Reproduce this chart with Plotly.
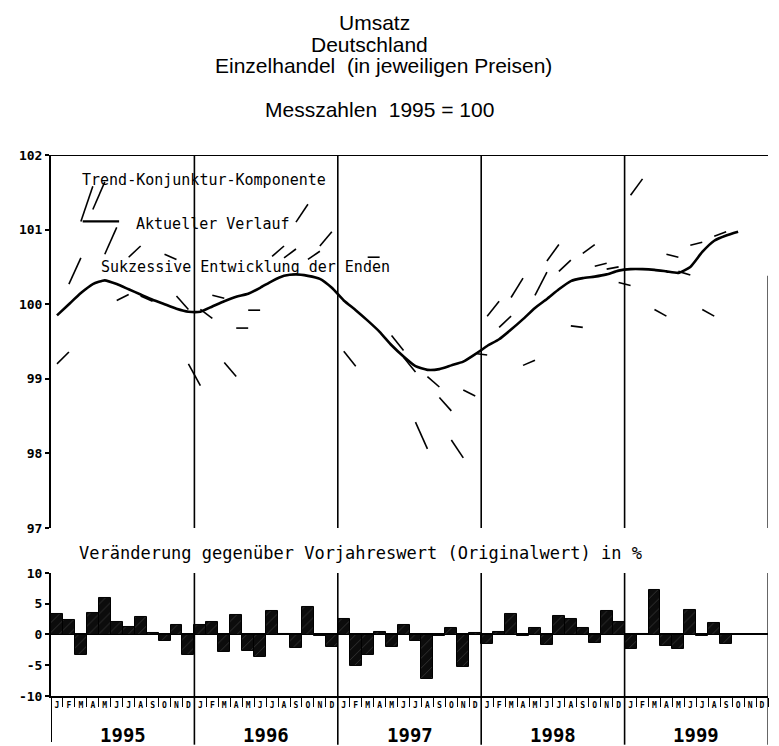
import plotly.graph_objects as go

# ---------------- data ----------------
years = ["1995", "1996", "1997", "1998", "1999"]
month_letters = ["J", "F", "M", "A", "M", "J", "J", "A", "S", "O", "N", "D"]
y_ticks_top = [97, 98, 99, 100, 101, 102]
y_ticks_bottom = [10, 5, 0, -5, -10]
y_ticklabels_bottom = ["10", "5", "0", "-5", "-10"]

# Trend-Konjunktur-Komponente, aktueller Verlauf (Jan 1995 .. Oct 1999)
trend = [99.85, 100.00, 100.15, 100.27, 100.32, 100.27, 100.20, 100.13, 100.06, 100.00, 99.94, 99.90,
         99.90, 99.97, 100.04, 100.10, 100.14, 100.22, 100.31, 100.38, 100.40, 100.38, 100.34, 100.22,
         100.05, 99.92, 99.78, 99.63, 99.45, 99.30, 99.17, 99.12, 99.13, 99.18, 99.23, 99.33,
         99.44, 99.53, 99.66, 99.80, 99.95, 100.07, 100.20, 100.31, 100.35, 100.37, 100.40, 100.45,
         100.47, 100.47, 100.46, 100.44, 100.42, 100.50, 100.70, 100.85, 100.92, 100.97]

# Sukzessive Entwicklung der Enden: month index where the segment starts, value at start, value one month later
dash_month = [0, 1, 2, 3, 4, 5, 6, 7, 9, 10, 11,
              12, 13, 14, 15, 16, 18, 19, 20, 21, 22,
              24, 26, 28, 29, 30, 31, 32, 33, 34, 35,
              36, 37, 38, 39, 40, 41, 42, 43, 44, 45, 46, 47,
              48, 50, 51, 52, 53, 54, 55]
dash_from = [99.20, 100.27, 101.11, 101.27, 100.67, 100.05, 100.63, 100.11, 100.67, 100.11, 99.20,
             99.93, 100.12, 99.22, 99.68, 99.92, 100.64, 100.62, 101.10, 100.60, 100.78,
             99.37, 100.63, 99.58, 99.29, 98.42, 99.03, 98.75, 98.18, 98.85, 99.34,
             99.84, 99.69, 100.09, 99.18, 100.12, 100.58, 100.44, 99.71, 100.68, 100.51, 100.47, 100.29,
             101.46, 99.93, 100.67, 100.44, 100.79, 99.93, 100.91]
dash_to = [99.36, 100.62, 101.58, 101.64, 101.03, 100.13, 100.78, 100.04, 100.60, 99.93, 98.91,
           99.81, 100.08, 99.03, 99.68, 99.92, 100.78, 100.74, 101.34, 100.71, 100.97,
           99.17, 100.63, 99.38, 99.09, 98.06, 98.89, 98.57, 97.94, 98.77, 99.32,
           100.04, 99.84, 100.35, 99.25, 100.43, 100.80, 100.59, 99.69, 100.80, 100.55, 100.50, 100.25,
           101.68, 99.84, 100.63, 100.39, 100.83, 99.84, 100.97]

# Veränderung gegenüber Vorjahreswert (Originalwert) in %
change_1995 = [3.4, 2.4, -3.3, 3.5, 5.9, 2.1, 1.3, 2.8, 0.2, -1.0, 1.5, -3.3]
change_1996 = [1.6, 2.1, -2.8, 3.2, -2.7, -3.7, 3.8, 0.1, -2.2, 4.5, -0.2, -2.1]
change_1997 = [2.6, -5.1, -3.3, 0.4, -2.1, 1.5, -1.0, -7.2, -0.2, 1.1, -5.2, 0.3]
change_1998 = [-1.6, 0.4, 3.3, -0.3, 1.1, -1.7, 3.0, 2.6, 1.0, -1.4, 3.9, 2.0]
change_1999 = [-2.3, 0.1, 7.2, -1.8, -2.3, 4.0, -0.2, 1.8, -1.5, None, None, None]

# ---------------- build ----------------
changes = change_1995 + change_1996 + change_1997 + change_1998 + change_1999
n_months = 12 * len(years)
months = list(range(n_months))

dx, dy = [], []
for m, a, b in zip(dash_month, dash_from, dash_to):
    dx += [m, m + 1, None]
    dy += [a, b, None]

MONO = "DejaVu Sans Mono"
SANS = "Liberation Sans"

fig = go.Figure()
fig.add_trace(go.Scatter(x=dx, y=dy, mode="lines", line=dict(color="black", width=1.6),
                         xaxis="x", yaxis="y", showlegend=False, hoverinfo="skip"))
fig.add_trace(go.Scatter(x=months[:len(trend)], y=trend, mode="lines",
                         line=dict(color="black", width=2.6, shape="spline", smoothing=0.5),
                         xaxis="x", yaxis="y", showlegend=False))
fig.add_trace(go.Bar(x=months, y=changes, width=1.0, xaxis="x2", yaxis="y2", showlegend=False,
                     marker=dict(color="#0c0c0c", line=dict(color="black", width=1),
                                 pattern=dict(shape="/", fgcolor="#8a8a8a", bgcolor="#0c0c0c",
                                              size=7, solidity=0.08))))

xr = [-0.5, n_months - 0.5]
# page has an 8 px body margin: figure is 8 px smaller and margins 8 px smaller
fig.update_layout(
    width=771, height=738,
    margin=dict(l=36, r=11, t=147, b=50),
    paper_bgcolor="white", plot_bgcolor="white",
    bargap=0,
    xaxis=dict(domain=[0, 1], range=xr, showgrid=False, zeroline=False, showticklabels=False,
               ticks="", showline=False, anchor="y"),
    yaxis=dict(domain=[0.3105, 1], range=[97, 102], tickvals=y_ticks_top,
               ticktext=["<b>%d</b>" % v for v in y_ticks_top], showgrid=False, zeroline=False,
               showline=True, linecolor="black", linewidth=2, ticks="outside", ticklen=4,
               tickwidth=2, tickcolor="black",
               tickfont=dict(family=MONO, size=13, color="black")),
    xaxis2=dict(domain=[0, 1], range=xr, showgrid=False, zeroline=False, anchor="y2",
                tickvals=months, ticktext=["<b>%s</b>" % s for s in month_letters * len(years)],
                ticks="", tickfont=dict(family=MONO, size=8, color="black"),
                showline=True, linecolor="black", linewidth=2,
                minor=dict(tick0=-0.5, dtick=1, ticks="outside", ticklen=9, tickcolor="black",
                           tickwidth=1)),
    yaxis2=dict(domain=[0, 0.2274], range=[-10, 10], tickvals=y_ticks_bottom,
                ticktext=["<b>%s</b>" % s for s in y_ticklabels_bottom], showgrid=False,
                zeroline=True, zerolinecolor="black",
                zerolinewidth=2, showline=True, linecolor="black", linewidth=2, ticks="outside",
                ticklen=4, tickwidth=2, tickcolor="black",
                tickfont=dict(family=MONO, size=13, color="black")),
)

shapes = []
shapes.append(dict(type="line", xref="x", yref="y", x0=xr[0], x1=xr[1], y0=102, y1=102,
                   line=dict(color="black", width=2)))
for k in range(1, len(years)):
    xb = 12 * k - 0.5
    shapes.append(dict(type="line", xref="x", yref="y", x0=xb, x1=xb, y0=97, y1=102,
                       line=dict(color="black", width=1.6)))
    shapes.append(dict(type="line", xref="x2", yref="paper", x0=xb, x1=xb, y0=-0.09, y1=0.2274,
                       line=dict(color="black", width=1.6)))
shapes.append(dict(type="line", xref="x", yref="y", x0=xr[1], x1=xr[1], y0=97, y1=100.38,
                   line=dict(color="black", width=1.2)))
shapes.append(dict(type="line", xref="x2", yref="paper", x0=xr[1], x1=xr[1], y0=-0.09, y1=0.2274,
                   line=dict(color="black", width=1.2)))
shapes.append(dict(type="line", xref="x2", yref="paper", x0=xr[0], x1=xr[0], y0=-0.085, y1=0,
                   line=dict(color="black", width=2)))
# legend sample for "Aktueller Verlauf"
shapes.append(dict(type="line", xref="x", yref="y", x0=2.15, x1=5.2, y0=101.11, y1=101.11,
                   line=dict(color="black", width=2.4)))
fig.update_layout(shapes=shapes)

ann = []
def title(text, xpix, ypix):
    ann.append(dict(text=text, xref="paper", yref="paper", x=(xpix - 44) / 724,
                    y=(696 - ypix) / 541, showarrow=False, xanchor="center", yanchor="middle",
                    font=dict(family=SANS, size=21, color="black")))
title("Umsatz", 371, 22)
title("Deutschland", 366, 44)
title("Einzelhandel  (in jeweiligen Preisen)", 380, 66)
title("Messzahlen  1995 = 100", 376, 109)

def inner(text, xm, yv, size=15):
    ann.append(dict(text=text, xref="x", yref="y", x=xm, y=yv, showarrow=False,
                    xanchor="center", yanchor="middle",
                    font=dict(family=MONO, size=size, color="black")))
inner("Trend-Konjunktur-Komponente", 12.3, 101.66)
inner("Aktueller Verlauf", 13.05, 101.08)
inner("Sukzessive Entwicklung der Enden", 15.74, 100.5)
ann.append(dict(text="Veränderung gegenüber Vorjahreswert (Originalwert) in %", xref="paper",
                yref="paper", x=(356.5 - 44) / 724, y=(696 - 553) / 541, showarrow=False,
                xanchor="center", yanchor="middle",
                font=dict(family=MONO, size=17, color="black")))
for k, yr in enumerate(years):
    ann.append(dict(text="<b>" + yr + "</b>", xref="x2", yref="paper", x=12 * k + 5.5,
                    y=(696 - 735) / 541, showarrow=False, xanchor="center", yanchor="middle",
                    font=dict(family=MONO, size=19, color="black")))
fig.update_layout(annotations=ann)

fig.write_html("out.html")
